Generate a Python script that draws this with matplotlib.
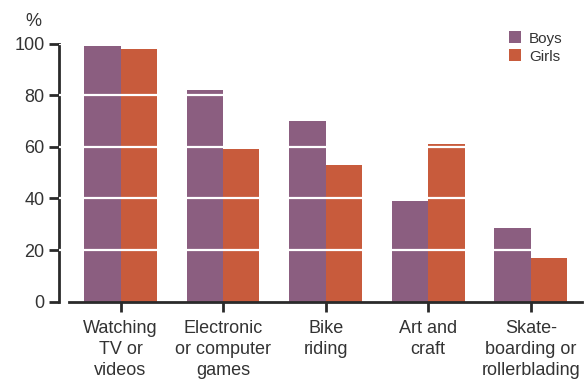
import matplotlib.pyplot as plt
import numpy as np

plt.rcParams['font.family'] = ['Liberation Sans', 'DejaVu Sans']

categories = ["Watching\nTV or\nvideos", "Electronic\nor computer\ngames", "Bike\nriding",
              "Art and\ncraft", "Skate-\nboarding or\nrollerblading"]
boys = [99, 82, 70, 39, 28.5]
girls = [98, 59, 53, 61, 17]
yticks = [0, 20, 40, 60, 80, 100]

BOYS_COL = "#8b5e80"
GIRLS_COL = "#c85b3c"
TXT = "#333333"

fig = plt.figure(figsize=(5.88, 3.80), dpi=100)
ax = fig.add_axes([59 / 588, 78.3 / 380, (582 - 59) / 588, (301.7 - 43.5) / 380])

x = np.arange(len(categories))
w = 0.355
ax.bar(x - w / 2, boys, w, color=BOYS_COL, label="Boys", zorder=2)
ax.bar(x + w / 2, girls, w, color=GIRLS_COL, label="Girls", zorder=2)

# white grid lines drawn over the bars
for t in yticks[1:]:
    ax.axhline(t, color="white", lw=1.6, zorder=3)

ax.set_xlim(-0.6, 4.5)
ax.set_ylim(0, 100)
ax.set_yticks(yticks)
ax.set_xticks(x)
ax.set_xticklabels(categories, linespacing=1.3)

for s in ["top", "right"]:
    ax.spines[s].set_visible(False)
ax.spines["bottom"].set_bounds(-0.5, 4.5)
for s in ["left", "bottom"]:
    ax.spines[s].set_linewidth(2)
    ax.spines[s].set_color("#2a2a2a")
ax.tick_params(axis="both", colors="#2a2a2a", width=2, length=7, labelsize=13, labelcolor=TXT)
ax.tick_params(axis="x", pad=6)

fig.text(33 / 588, 1 - 21 / 380, "%", fontsize=13, color=TXT, ha="center", va="center")

ax.legend(loc="upper right", bbox_to_anchor=(0.989, 1.10), frameon=False, fontsize=11,
          handlelength=0.8, handleheight=0.8, handletextpad=0.5, labelspacing=0.25,
          labelcolor=TXT)

fig.savefig("out.png", dpi=100)
